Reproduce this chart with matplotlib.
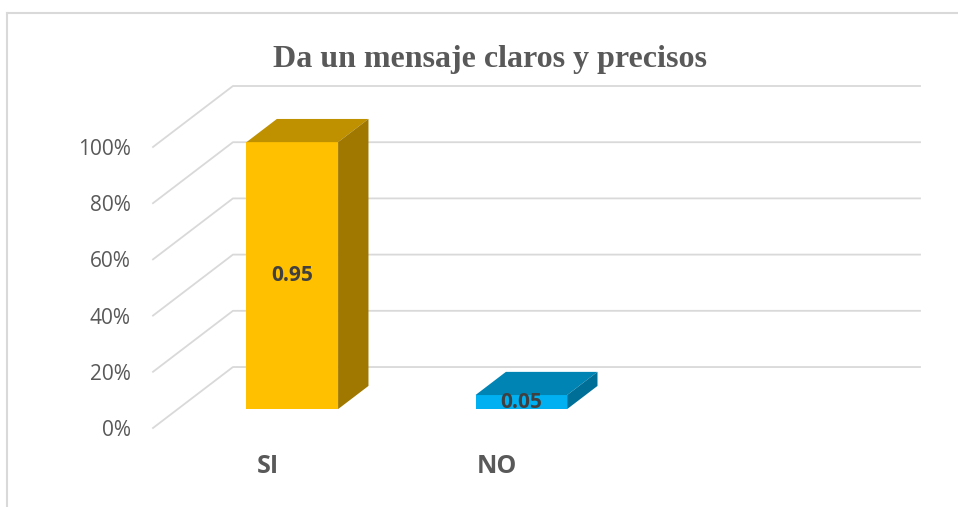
import matplotlib.pyplot as plt
from matplotlib.patches import Polygon
from matplotlib.lines import Line2D
from matplotlib.transforms import offset_copy

categories = ["SI", "NO", ""]
values = [0.95, 0.05]
labels = ["0.95", "0.05"]
front_colors = ["#FFC000", "#00B0F0"]
top_colors = ["#BF9000", "#0084B4"]
side_colors = ["#A07800", "#006F98"]
y_ticks = [0, 0.2, 0.4, 0.6, 0.8, 1.0]
y_tick_labels = ["0%", "20%", "40%", "60%", "80%", "100%"]

# oblique projection of the depth axis (in data units)
kx = 0.349
ky = 0.217
d0 = 0.31      # bar front depth
dd = 0.38      # bar depth
width = 0.4

fig = plt.figure(figsize=(9.58, 5.07), dpi=100)
ax = fig.add_axes([153 / 958, (507 - 428) / 507, 767 / 958, 342 / 507])
ax.set_xlim(0, len(categories) + kx)
ax.set_ylim(0, 1 + ky)

grid = "#D9D9D9"
for v in y_ticks:
    ax.plot([0, kx, len(categories) + kx], [v, v + ky, v + ky],
            color=grid, lw=1.3, zorder=1, clip_on=False)

for i, v in enumerate(values):
    c = i + 0.5
    x0 = c - width / 2 + d0 * kx
    x1 = c + width / 2 + d0 * kx
    y0 = d0 * ky
    y1 = v + d0 * ky
    ax.bar(c + d0 * kx, v, width=width, bottom=y0, color=front_colors[i], zorder=3)
    top = [(x0, y1), (x1, y1), (x1 + dd * kx, y1 + dd * ky), (x0 + dd * kx, y1 + dd * ky)]
    side = [(x1, y0), (x1 + dd * kx, y0 + dd * ky), (x1 + dd * kx, y1 + dd * ky), (x1, y1)]
    ax.add_patch(Polygon(top, closed=True, color=top_colors[i], zorder=3, lw=0))
    ax.add_patch(Polygon(side, closed=True, color=side_colors[i], zorder=3, lw=0))
    ax.text((x0 + x1) / 2, (y0 + y1) / 2, labels[i], ha="center", va="center",
            fontsize=15, fontweight="bold", color="#404040", family="Open Sans", zorder=5)

ax.set_yticks(y_ticks)
ax.set_yticklabels(y_tick_labels, fontsize=15, color="#595959", family="Open Sans")
ax.tick_params(axis="y", length=0, pad=16)
ax.set_xticks([])
below = offset_copy(ax.transData, fig=fig, y=-45, units="dots")
for i, cat in enumerate(categories):
    ax.text(i + 0.5, 0, cat, transform=below, ha="center", va="baseline",
            fontsize=18, fontweight="bold", color="#595959", family="Open Sans")
for s in ax.spines.values():
    s.set_visible(False)

fig.text(490 / 958, 1 - 67 / 507, "Da un mensaje claros y precisos", ha="center", va="baseline",
         fontsize=23, fontweight="bold", color="#595959", family="Liberation Serif")

# chart frame
fig.add_artist(Line2D([7 / 958, 1], [1 - 13 / 507] * 2, color=grid, lw=1.5))
fig.add_artist(Line2D([7 / 958] * 2, [0, 1 - 13 / 507], color=grid, lw=1.5))

fig.savefig("out.png", dpi=100)
